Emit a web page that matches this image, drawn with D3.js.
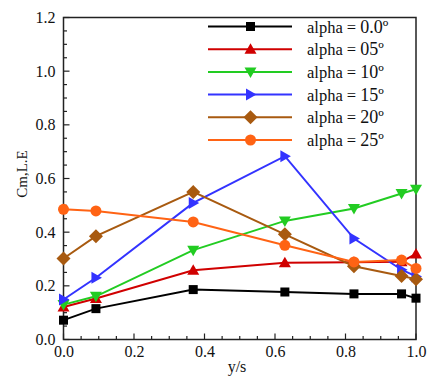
<!DOCTYPE html>
<html><head><meta charset="utf-8">
<script src="https://cdn.jsdelivr.net/npm/d3@7"></script>
<style>body{margin:0;background:#fff}svg{display:block}svg text{font-family:'Liberation Serif','Times New Roman',Tinos,'DejaVu Serif',serif !important;fill:#111}</style>
</head><body><svg id="c" width="427" height="376"></svg>
<script>
const xVals = [0.0, 0.092, 0.368, 0.628, 0.824, 0.959, 1.0];
const alpha00 = [0.072, 0.115, 0.186, 0.177, 0.170, 0.170, 0.154];
const alpha05 = [0.121, 0.153, 0.258, 0.286, 0.288, 0.290, 0.319];
const alpha10 = [0.130, 0.161, 0.333, 0.442, 0.488, 0.544, 0.560];
const alpha15 = [0.149, 0.230, 0.509, 0.683, 0.376, 0.260, 0.235];
const alpha20 = [0.302, 0.385, 0.550, 0.392, 0.273, 0.237, 0.225];
const alpha25 = [0.485, 0.479, 0.438, 0.351, 0.289, 0.296, 0.265];
const seriesNames = ["alpha = ", "alpha = ", "alpha = ", "alpha = ", "alpha = ", "alpha = "];
const seriesAngles = ["0.0º", "05º", "10º", "15º", "20º", "25º"];
const seriesColors = ["#000000", "#d00000", "#22cc22", "#3333ff", "#a85a10", "#ff6314"];
const seriesSymbols = ["square", "triUp", "triDown", "triRight", "diamond", "circle"];
const xTicks = [0.0, 0.2, 0.4, 0.6, 0.8, 1.0];
const yTicks = [0.0, 0.2, 0.4, 0.6, 0.8, 1.0, 1.2];
const allSeries = [alpha00, alpha05, alpha10, alpha15, alpha20, alpha25];

const FONT = "'Liberation Serif', 'Times New Roman', serif";
const svg = d3.select("#c");
const L = 63.5, R = 416, T = 17.5, B = 339.5;
const x = d3.scaleLinear().domain([0, 1]).range([L, R]);
const y = d3.scaleLinear().domain([0, 1.2]).range([B, T]);

const minorX = d3.range(0, 1.0001, 0.05);
const minorY = d3.range(0, 1.2001, 0.05);
const isMajor = d => Math.abs(d * 5 - Math.round(d * 5)) < 1e-6;
const g = svg.append("g");
g.selectAll(".mx").data(minorX).join("line")
  .attr("x1", d => x(d)).attr("x2", d => x(d)).attr("y1", B).attr("y2", d => B - (isMajor(d) ? 6 : 3.5))
  .attr("stroke", "#222").attr("stroke-width", 1.2);
g.selectAll(".my").data(minorY).join("line")
  .attr("y1", d => y(d)).attr("y2", d => y(d)).attr("x1", L).attr("x2", d => L + (isMajor(d) ? 6 : 3.5))
  .attr("stroke", "#222").attr("stroke-width", 1.2);

const xAxis = svg.append("g").attr("transform", `translate(0,${B})`)
  .call(d3.axisBottom(x).tickValues(xTicks).tickFormat(d3.format(".1f")).tickSize(0).tickPadding(6));
xAxis.attr("font-family", null).attr("font-size", null);
xAxis.select(".domain").remove();
xAxis.selectAll("text").style("font-family", FONT).style("font-size", "16px").attr("fill", "#111");
const yAxis = svg.append("g").attr("transform", `translate(${L},0)`)
  .call(d3.axisLeft(y).tickValues(yTicks).tickFormat(d3.format(".1f")).tickSize(0).tickPadding(8));
yAxis.attr("font-family", null).attr("font-size", null);
yAxis.select(".domain").remove();
yAxis.selectAll("text").style("font-family", FONT).style("font-size", "16px").attr("fill", "#111");

svg.append("rect").attr("x", L).attr("y", T).attr("width", R - L).attr("height", B - T)
  .attr("fill", "none").attr("stroke", "#222").attr("stroke-width", 1.5);

svg.append("text").attr("x", 237).attr("y", 372).attr("text-anchor", "middle").style("font-family", FONT).style("font-size", "16px").text("y/s");
svg.append("text").attr("transform", `translate(27,174) rotate(-90)`).attr("text-anchor", "middle").style("font-family", FONT).style("font-size", "15px").text("Cm,L.E");

function marker(sel, type, cx, cy, color) {
  if (type === "square") sel.append("rect").attr("x", cx - 4.5).attr("y", cy - 4.5).attr("width", 9).attr("height", 9).attr("fill", color);
  else if (type === "circle") sel.append("circle").attr("cx", cx).attr("cy", cy).attr("r", 5.5).attr("fill", color);
  else {
    let pts;
    if (type === "triUp") pts = [[cx, cy - 6], [cx + 6, cy + 4.5], [cx - 6, cy + 4.5]];
    if (type === "triDown") pts = [[cx, cy + 6], [cx + 6, cy - 4.5], [cx - 6, cy - 4.5]];
    if (type === "triRight") pts = [[cx + 6, cy], [cx - 4.5, cy - 6], [cx - 4.5, cy + 6]];
    if (type === "diamond") pts = [[cx, cy - 7], [cx + 7, cy], [cx, cy + 7], [cx - 7, cy]];
    sel.append("polygon").attr("points", pts.map(p => p.join(",")).join(" ")).attr("fill", color);
  }
}

const line = d3.line().x(d => x(d[0])).y(d => y(d[1]));
allSeries.forEach((vals, i) => {
  const data = xVals.map((xv, j) => [xv, vals[j]]);
  const sg = svg.append("g");
  sg.append("path").attr("d", line(data)).attr("fill", "none").attr("stroke", seriesColors[i]).attr("stroke-width", 2);
  data.forEach(d => marker(sg, seriesSymbols[i], x(d[0]), y(d[1]), seriesColors[i]));
});

const lg = svg.append("g");
seriesNames.forEach((n, i) => {
  const ly = 26.5 + i * 22.7;
  lg.append("line").attr("x1", 208).attr("x2", 292).attr("y1", ly).attr("y2", ly).attr("stroke", seriesColors[i]).attr("stroke-width", 2);
  marker(lg, seriesSymbols[i], 250.5, ly, seriesColors[i]);
  const t = lg.append("text").attr("x", 307).attr("y", ly + 6).style("font-family", FONT).style("font-size", "16.5px");
  t.append("tspan").text(n);
  t.append("tspan").style("font-size", "18px").text(seriesAngles[i]);
});
</script></body></html>
